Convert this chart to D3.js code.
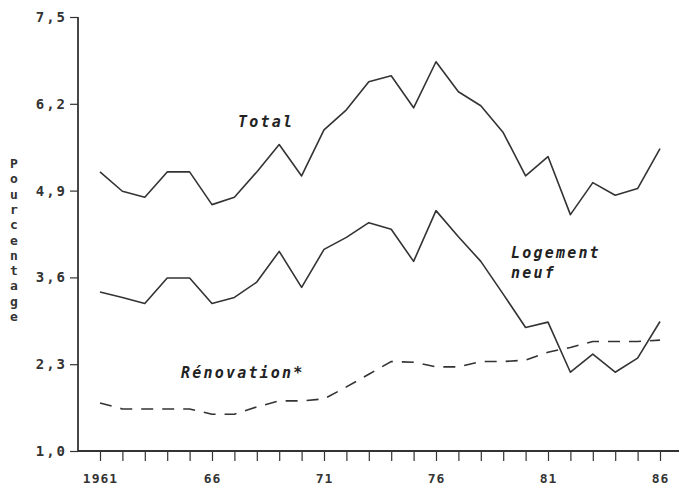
<!DOCTYPE html>
<html>
<head>
<meta charset="utf-8">
<script src="https://cdn.jsdelivr.net/npm/d3@7"></script>
<style>
  html, body { margin: 0; padding: 0; background: #fff; }
  svg { display: block; }
  .tick text { font-family: "DejaVu Sans Mono", monospace; font-weight: bold; fill: #333; }
  .lbl { font-family: "DejaVu Sans Mono", monospace; font-style: oblique; font-weight: bold; fill: #222; font-size: 15px; }
</style>
</head>
<body>
<svg id="chart" width="679" height="485"></svg>
<script>
// Années 1961–1986
const years = d3.range(1961, 1987);

// Part dans le total (%)
const total = [5.18, 4.89, 4.80, 5.18, 5.18, 4.69, 4.80, 5.18, 5.59, 5.12,
               5.81, 6.11, 6.53, 6.62, 6.14, 6.83, 6.38, 6.17, 5.77, 5.12,
               5.41, 4.54, 5.02, 4.83, 4.93, 5.53];
const logementNeuf = [3.38, 3.30, 3.21, 3.59, 3.59, 3.21, 3.30, 3.53, 3.99, 3.45,
                      4.02, 4.20, 4.42, 4.32, 3.84, 4.60, 4.21, 3.84, 3.35, 2.85,
                      2.93, 2.18, 2.45, 2.18, 2.39, 2.94];
const renovation = [1.72, 1.63, 1.63, 1.63, 1.63, 1.55, 1.55, 1.66, 1.75, 1.75,
                    1.78, 1.96, 2.15, 2.34, 2.33, 2.26, 2.26, 2.34, 2.34, 2.36,
                    2.48, 2.55, 2.64, 2.64, 2.64, 2.66];

const yTicks = [1.0, 2.3, 3.6, 4.9, 6.2, 7.5];
const yTickLabels = ["1,0", "2,3", "3,6", "4,9", "6,2", "7,5"];
const xTickLabels = {1961: "1961", 1966: "66", 1971: "71", 1976: "76", 1981: "81", 1986: "86"};
const yTitle = "Pourcentage";

const svg = d3.select("#chart");
const axisLeftX = 78, axisY = 451, axisRight = 679;

const x = d3.scaleLinear().domain([1961, 1986]).range([100, 660]);
const y = d3.scaleLinear().domain([1.0, 7.5]).range([451, 17]);

const ink = "#333";

// Axe horizontal
svg.append("line")
  .attr("x1", axisLeftX).attr("x2", axisRight)
  .attr("y1", axisY).attr("y2", axisY)
  .attr("stroke", ink).attr("stroke-width", 1.8);

const xAxis = svg.append("g")
  .attr("transform", `translate(0,${axisY})`)
  .call(d3.axisBottom(x)
    .tickValues(years)
    .tickSize(10)
    .tickPadding(13)
    .tickFormat(d => xTickLabels[d] || ""));
xAxis.select(".domain").remove();
xAxis.selectAll(".tick line").attr("stroke", ink).attr("stroke-width", 1.2);
xAxis.selectAll(".tick text").attr("font-size", 13).attr("letter-spacing", "1px").attr("fill", ink);

// Axe vertical
const yAxis = svg.append("g")
  .attr("transform", `translate(${axisLeftX},0)`)
  .call(d3.axisLeft(y)
    .tickValues(yTicks)
    .tickSize(8)
    .tickPadding(3)
    .tickFormat((d, i) => yTickLabels[i]));
yAxis.select(".domain")
  .attr("d", `M0,${y(7.5)}V${axisY}`)
  .attr("stroke", ink).attr("stroke-width", 1.8);
yAxis.selectAll(".tick line").attr("stroke", ink).attr("stroke-width", 1.2);
yAxis.selectAll(".tick text").attr("font-size", 14).attr("letter-spacing", "2px").attr("fill", ink);

// Titre vertical, lettres empilées
svg.append("g")
  .selectAll("text")
  .data(yTitle.split(""))
  .join("text")
  .attr("x", 14)
  .attr("y", (d, i) => 168 + i * 15.3)
  .attr("text-anchor", "middle")
  .attr("font-family", "DejaVu Sans Mono, monospace")
  .attr("font-weight", "bold")
  .attr("font-size", 13)
  .attr("fill", ink)
  .text(d => d);

// Courbes
const line = d3.line().x((d, i) => x(years[i])).y(d => y(d));

svg.append("path").datum(total)
  .attr("d", line).attr("fill", "none")
  .attr("stroke", ink).attr("stroke-width", 1.6).attr("stroke-linejoin", "round");

svg.append("path").datum(logementNeuf)
  .attr("d", line).attr("fill", "none")
  .attr("stroke", ink).attr("stroke-width", 1.6).attr("stroke-linejoin", "round");

svg.append("path").datum(renovation)
  .attr("d", line).attr("fill", "none")
  .attr("stroke", ink).attr("stroke-width", 1.6)
  .attr("stroke-dasharray", "12,9");

// Étiquettes des séries
const labels = [
  {t: "Total", x: 238, y: 127},
  {t: "Logement", x: 511, y: 258},
  {t: "neuf", x: 511, y: 278},
  {t: "Rénovation*", x: 181, y: 378}
];
svg.append("g").selectAll("text").data(labels).join("text")
  .attr("class", "lbl")
  .attr("x", d => d.x).attr("y", d => d.y)
  .attr("letter-spacing", "2.2px")
  .text(d => d.t);
</script>
</body>
</html>
